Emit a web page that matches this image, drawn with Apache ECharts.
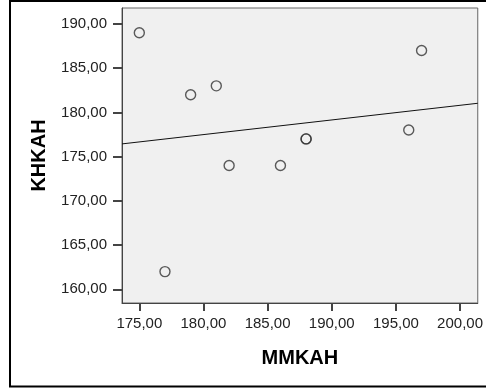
<!DOCTYPE html>
<html>
<head>
<meta charset="utf-8">
<script src="https://cdn.jsdelivr.net/npm/echarts@6/dist/echarts.min.js"></script>
<style>
html,body{margin:0;padding:0;background:#fff;}
#chart{width:486px;height:389px;}
</style>
</head>
<body>
<div id="chart"></div>
<script>
// Data
const xValues = [175, 179, 181, 182, 177, 186, 188, 188, 196, 197];
const yValues = [189, 182, 183, 174, 162, 174, 177, 177, 178, 187];
const xTicks = [175, 180, 185, 190, 195, 200];
const yTicks = [160, 165, 170, 175, 180, 185, 190];
const xName = 'MMKAH';
const yName = 'KHKAH';

const xMin = 173.65, xMax = 201.38;
const yMin = 158.45, yMax = 191.8;

// linear fit (least squares) computed from the data
const n = xValues.length;
const mx = xValues.reduce((a, b) => a + b, 0) / n;
const my = yValues.reduce((a, b) => a + b, 0) / n;
let sxy = 0, sxx = 0;
for (let i = 0; i < n; i++) {
  sxy += (xValues[i] - mx) * (yValues[i] - my);
  sxx += (xValues[i] - mx) * (xValues[i] - mx);
}
const slope = sxy / sxx;
const intercept = my - slope * mx;
const fitLine = [[xMin, intercept + slope * xMin], [xMax, intercept + slope * xMax]];

const points = xValues.map((x, i) => [x, yValues[i]]);
const fmt = v => v.toFixed(2).replace('.', ',');
const font = '"Liberation Sans", Arial, sans-serif';

const chart = echarts.init(document.getElementById('chart'), null, {renderer: 'canvas'});
chart.setOption({
  animation: false,
  backgroundColor: '#ffffff',
  graphic: [{
    type: 'rect',
    shape: {x: 10, y: 1, width: 500, height: 385.5},
    style: {fill: 'none', stroke: '#000', lineWidth: 2},
    z: 100
  }],
  grid: {
    left: 122, top: 8, right: 3, bottom: 86,
    show: true, backgroundColor: '#f0f0f0', borderColor: '#666', borderWidth: 1
  },
  xAxis: {
    type: 'value', min: xMin, max: xMax,
    name: xName, nameLocation: 'middle', nameGap: 45,
    nameTextStyle: {fontFamily: font, fontSize: 20, fontWeight: 'bold', color: '#000'},
    axisLine: {show: true, onZero: false, lineStyle: {color: '#444', width: 1}},
    axisTick: {show: true, length: 8, customValues: xTicks, lineStyle: {color: '#444', width: 2}},
    axisLabel: {customValues: xTicks, formatter: fmt, margin: 13, fontFamily: font, fontSize: 15, color: '#222'},
    splitLine: {show: false}
  },
  yAxis: {
    type: 'value', min: yMin, max: yMax,
    name: yName, nameLocation: 'middle', nameGap: 73, nameRotate: 90,
    nameTextStyle: {fontFamily: font, fontSize: 20, fontWeight: 'bold', color: '#000'},
    axisLine: {show: true, onZero: false, lineStyle: {color: '#444', width: 1}},
    axisTick: {show: true, length: 9, customValues: yTicks, lineStyle: {color: '#444', width: 2}},
    axisLabel: {customValues: yTicks, formatter: fmt, margin: 15, fontFamily: font, fontSize: 15, color: '#222'},
    splitLine: {show: false}
  },
  series: [{
    type: 'line',
    data: fitLine,
    symbol: 'none',
    lineStyle: {color: '#111', width: 1},
    silent: true, z: 2
  }, {
    type: 'scatter',
    data: points,
    symbol: 'circle',
    symbolSize: 10,
    itemStyle: {color: 'rgba(0,0,0,0)', borderColor: '#333', borderWidth: 1.4},
    z: 3
  }]
});
</script>
</body>
</html>
